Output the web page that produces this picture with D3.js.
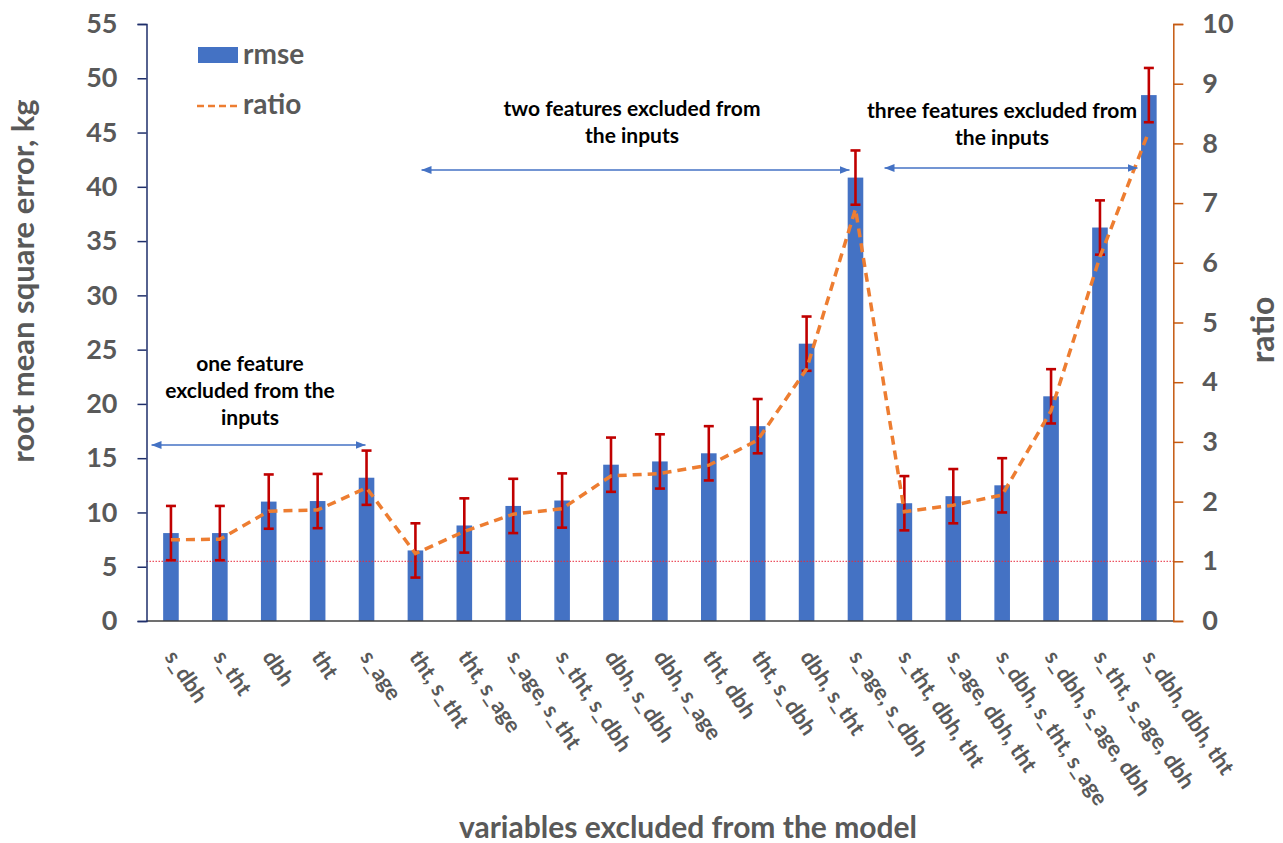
<!DOCTYPE html>
<html>
<head>
<meta charset="utf-8">
<script src="https://cdn.jsdelivr.net/npm/d3@7"></script>
<style>
  html, body { margin: 0; padding: 0; background: #fff; }
  svg { display: block; font-family: Lato, "Open Sans", sans-serif; }
</style>
</head>
<body>
<svg id="chart" width="1283" height="843"></svg>
<script>
// Model variants (variables left out of the inputs)
const categories = [
  "s_dbh", "s_tht", "dbh", "tht", "s_age",
  "tht, s_tht", "tht, s_age", "s_age, s_tht", "s_tht, s_dbh", "dbh, s_dbh",
  "dbh, s_age", "tht, dbh", "tht, s_dbh", "dbh, s_tht", "s_age, s_dbh",
  "s_tht, dbh, tht", "s_age, dbh, tht", "s_dbh, s_tht, s_age", "s_dbh, s_age, dbh",
  "s_tht, s_age, dbh", "s_dbh, dbh, tht"
];
// Root mean square error (kg) and its error-bar half width
const rmse = [8.1, 8.1, 11.0, 11.05, 13.2, 6.5, 8.8, 10.6, 11.1, 14.4,
              14.7, 15.45, 17.95, 25.55, 40.85, 10.85, 11.5, 12.5, 20.7, 36.25, 48.45];
const rmseErr = [2.5, 2.5, 2.5, 2.5, 2.5, 2.5, 2.5, 2.5, 2.5, 2.5,
                 2.5, 2.5, 2.5, 2.5, 2.5, 2.5, 2.5, 2.5, 2.5, 2.5, 2.5];
// Ratio to the full model
const ratio = [1.36, 1.37, 1.84, 1.86, 2.23, 1.13, 1.50, 1.79, 1.88, 2.43,
               2.47, 2.61, 3.03, 4.22, 6.90, 1.83, 1.94, 2.11, 3.52, 6.1, 8.2];
const leftTicks = [0, 5, 10, 15, 20, 25, 30, 35, 40, 45, 50, 55];
const rightTicks = [0, 1, 2, 3, 4, 5, 6, 7, 8, 9, 10];
const baselineRatio = 1;
// Group annotations: text lines and the first / last category spanned
const groups = [
  { lines: ["one feature", "excluded from the", "inputs"], from: 0, to: 4 },
  { lines: ["two features excluded from", "the inputs"], from: 5, to: 14 },
  { lines: ["three features excluded from", "the inputs"], from: 15, to: 20 }
];

const svg = d3.select("#chart");
const plot = { left: 146.5, right: 1173.3, top: 24, bottom: 621 };
const grey = "#595959";
const blue = "#4472C4";
const orange = "#ED7D31";

const x = d3.scaleBand().domain(categories).range([plot.left, plot.right]).padding(0);
const yL = d3.scaleLinear().domain([0, 55]).range([plot.bottom, plot.top]);
const yR = d3.scaleLinear().domain([0, 10]).range([plot.bottom, plot.top]);
const barW = 15.6;
const cx = c => x(c) + x.bandwidth() / 2;

// Bars
svg.append("g").selectAll("rect").data(categories).join("rect")
  .attr("x", c => cx(c) - barW / 2)
  .attr("width", barW)
  .attr("y", (c, i) => yL(rmse[i]))
  .attr("height", (c, i) => yL(0) - yL(rmse[i]))
  .attr("fill", blue);

// Reference line at ratio = 1
svg.append("line")
  .attr("x1", plot.left).attr("x2", plot.right)
  .attr("y1", yR(baselineRatio)).attr("y2", yR(baselineRatio))
  .attr("stroke", "#E8283A").attr("stroke-width", 1)
  .attr("stroke-dasharray", "1.5,1.5");

// Error bars
const eb = svg.append("g").attr("stroke", "#C00000").attr("stroke-width", 2.6).attr("fill", "none");
categories.forEach((c, i) => {
  const xc = cx(c), y1 = yL(rmse[i] + rmseErr[i]), y0 = yL(rmse[i] - rmseErr[i]);
  eb.append("line").attr("x1", xc).attr("x2", xc).attr("y1", y1).attr("y2", y0);
  eb.append("line").attr("x1", xc - 5).attr("x2", xc + 5).attr("y1", y1).attr("y2", y1);
  eb.append("line").attr("x1", xc - 5).attr("x2", xc + 5).attr("y1", y0).attr("y2", y0);
});

// Ratio line
const line = d3.line().x((d, i) => cx(categories[i])).y(d => yR(d));
svg.append("path").datum(ratio)
  .attr("d", line)
  .attr("fill", "none").attr("stroke", orange)
  .attr("stroke-width", 3.5).attr("stroke-dasharray", "9,6");

// X axis line
svg.append("line")
  .attr("x1", plot.left).attr("x2", plot.right)
  .attr("y1", plot.bottom).attr("y2", plot.bottom)
  .attr("stroke", "#404040").attr("stroke-width", 1.5);

// Left axis
const axL = svg.append("g").attr("transform", `translate(${plot.left},0)`)
  .call(d3.axisLeft(yL).tickValues(leftTicks).tickSize(9).tickPadding(20));
axL.select(".domain").attr("stroke", "#1F2F6B").attr("stroke-width", 1.5);
axL.selectAll(".tick line").attr("stroke", "#1F2F6B").attr("stroke-width", 1.5);
axL.selectAll(".tick text").attr("fill", grey).attr("font-size", 27)
  .attr("font-weight", "bold").attr("font-family", "Lato, sans-serif");

// Right axis
const axR = svg.append("g").attr("transform", `translate(${plot.right},0)`)
  .call(d3.axisRight(yR).tickValues(rightTicks).tickSize(10).tickPadding(19));
axR.select(".domain").attr("stroke", "#C55A11").attr("stroke-width", 1.5);
axR.selectAll(".tick line").attr("stroke", "#C55A11").attr("stroke-width", 1.5);
axR.selectAll(".tick text").attr("fill", grey).attr("font-size", 27)
  .attr("font-weight", "bold").attr("font-family", "Lato, sans-serif");

// Category labels, rotated
svg.append("g").selectAll("text").data(categories).join("text")
  .attr("transform", c => `translate(${cx(c) - 7},${plot.bottom + 36}) rotate(56)`)
  .attr("text-anchor", "start")
  .attr("fill", grey).attr("font-size", 22).attr("font-weight", "bold")
  .text(c => c);

// Axis titles
svg.append("text")
  .attr("transform", "translate(34,281) rotate(-90)")
  .attr("text-anchor", "middle").attr("fill", grey)
  .attr("font-size", 31).attr("font-weight", "bold")
  .text("root mean square error, kg");
svg.append("text")
  .attr("transform", "translate(1274,330) rotate(-90)")
  .attr("text-anchor", "middle").attr("fill", grey)
  .attr("font-size", 32).attr("font-weight", "bold")
  .text("ratio");
svg.append("text")
  .attr("x", 688).attr("y", 838)
  .attr("text-anchor", "middle").attr("fill", grey)
  .attr("font-size", 30).attr("font-weight", "bold")
  .text("variables excluded from the model");

// Legend
const lg = svg.append("g");
lg.append("rect").attr("x", 198).attr("y", 47).attr("width", 40).attr("height", 16).attr("fill", blue);
lg.append("text").attr("x", 243).attr("y", 64).attr("fill", grey)
  .attr("font-size", 28).attr("font-weight", "bold").text("rmse");
lg.append("line").attr("x1", 197).attr("x2", 238).attr("y1", 106).attr("y2", 106)
  .attr("stroke", orange).attr("stroke-width", 2.5).attr("stroke-dasharray", "7,4");
lg.append("text").attr("x", 243).attr("y", 114).attr("fill", grey)
  .attr("font-size", 28).attr("font-weight", "bold").text("ratio");

// Group annotations with double-headed arrows
const defs = svg.append("defs");
defs.append("marker").attr("id", "ah").attr("viewBox", "0 0 10 8")
  .attr("refX", 10).attr("refY", 4).attr("markerWidth", 10).attr("markerHeight", 8)
  .attr("markerUnits", "userSpaceOnUse").attr("orient", "auto-start-reverse")
  .append("path").attr("d", "M0,0 L10,4 L0,8 Z").attr("fill", blue);

const groupLayout = [
  { textX: 250, textY: 371, arrowY: 445, x1: 151.5, x2: 365.5 },
  { textX: 632, textY: 116, arrowY: 170, x1: 421.5, x2: 849.5 },
  { textX: 1002, textY: 118, arrowY: 168, x1: 884.5, x2: 1137.5 }
];
groups.forEach((g, k) => {
  const L = groupLayout[k];
  const t = svg.append("text").attr("text-anchor", "middle").attr("fill", "#000")
    .attr("font-size", 21).attr("font-weight", "bold");
  g.lines.forEach((s, j) => {
    t.append("tspan").attr("x", L.textX).attr("y", L.textY + j * 27).text(s);
  });
  svg.append("line").attr("x1", L.x1).attr("x2", L.x2)
    .attr("y1", L.arrowY).attr("y2", L.arrowY)
    .attr("stroke", blue).attr("stroke-width", 1.5)
    .attr("marker-start", "url(#ah)").attr("marker-end", "url(#ah)");
});
</script>
</body>
</html>
